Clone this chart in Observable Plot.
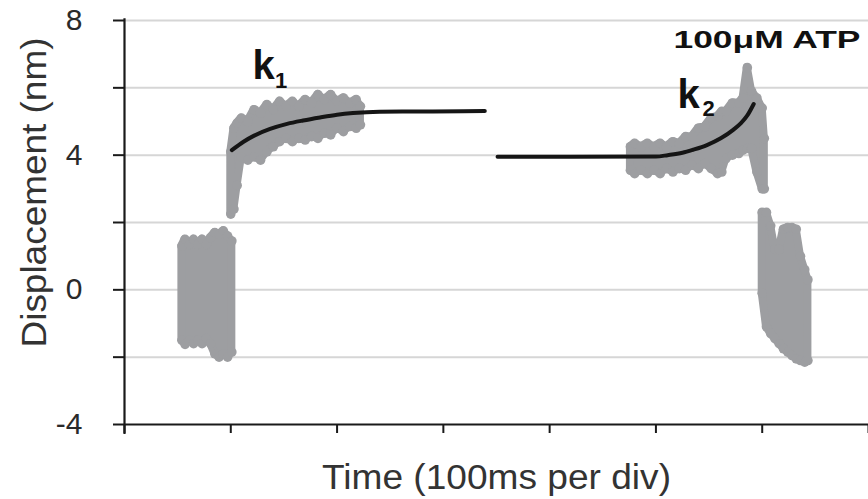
<!DOCTYPE html>
<html><head><meta charset="utf-8">
<script src="https://cdn.jsdelivr.net/npm/d3@7"></script>
<script src="https://cdn.jsdelivr.net/npm/@observablehq/plot@0.6"></script>
<style>body{margin:0;background:#fff;} #chart{width:868px;height:499px;}</style>
</head><body><div id="chart"></div>
<script>
// ---- data ----
const xTicks = [0, 100, 200, 300, 400, 500, 600, 700];        // ms, 100 ms per div
const yMinorTicks = [-4, -2, 0, 2, 4, 6, 8];
const yLabelTicks = [-4, 0, 4, 8];
const gridValues = [-2, 0, 2, 4, 6, 8];

// noisy trace shown as its spread: time (ms), lower and upper displacement (nm)
// baseline before binding
const segA_t  = [54, 57, 61, 65, 69, 73, 77, 81, 85, 89, 93, 97, 101];
const segA_lo = [-1.5, -1.62, -1.5, -1.6, -1.5, -1.6, -1.45, -1.6, -1.9, -2.0, -1.9, -2.0, -1.85];
const segA_hi = [1.3, 1.5, 1.35, 1.5, 1.35, 1.5, 1.35, 1.55, 1.7, 1.65, 1.75, 1.6, 1.45];

// bound (k1 phase)
const segB_t  = [100, 103, 106, 110, 116, 122, 128, 134, 140, 146, 152, 158, 164, 170, 176, 182, 188, 194, 200, 206, 212, 218, 222];
const segB_lo = [2.25, 2.4, 3.1, 3.95, 3.85, 3.95, 3.85, 4.1, 4.25, 4.4, 4.5, 4.4, 4.5, 4.45, 4.55, 4.5, 4.65, 4.6, 4.8, 4.7, 4.85, 4.8, 4.9];
const segB_hi = [4.1, 4.8, 4.95, 5.1, 5.0, 5.35, 5.25, 5.5, 5.35, 5.6, 5.45, 5.6, 5.45, 5.65, 5.55, 5.8, 5.65, 5.8, 5.6, 5.7, 5.55, 5.65, 5.45];

// bound (k2 phase, 100 µM ATP)
const segC_t  = [476, 480, 486, 492, 498, 504, 510, 516, 522, 528, 534, 540, 546, 552, 558, 562, 566, 572, 578, 582, 586, 590, 595, 600, 602];
const segC_lo = [3.55, 3.45, 3.55, 3.45, 3.55, 3.45, 3.6, 3.5, 3.6, 3.55, 3.7, 3.6, 3.75, 3.6, 3.45, 3.5, 3.9, 4.0, 4.05, 4.15, 4.2, 4.2, 3.5, 3.0, 3.0];
const segC_hi = [4.25, 4.35, 4.25, 4.35, 4.25, 4.35, 4.25, 4.4, 4.35, 4.55, 4.55, 4.8, 4.85, 5.1, 5.15, 5.3, 5.3, 5.55, 5.55, 5.7, 6.6, 5.9, 5.7, 5.4, 4.5];

// after release
const segD_t  = [600, 604, 608, 612, 616, 620, 624, 628, 632, 636, 640, 643];
const segD_lo = [-0.1, -1.1, -1.3, -1.45, -1.6, -1.75, -1.85, -1.95, -2.05, -2.1, -2.15, -2.1];
const segD_hi = [2.3, 2.3, 1.9, 1.2, 1.2, 1.8, 1.85, 1.85, 1.8, 1.0, 0.6, 0.3];

// exponential fits (k1, k2)
const fit1_t = [101, 112, 122, 137, 153, 168, 184, 200, 215, 240, 290, 339];
const fit1_v = [4.15, 4.4, 4.58, 4.78, 4.93, 5.03, 5.12, 5.2, 5.25, 5.29, 5.3, 5.31];
const fit2_t = [351, 420, 500, 511, 525, 535, 548, 561, 573, 580, 586, 592];
const fit2_v = [3.95, 3.95, 3.96, 4.0, 4.07, 4.16, 4.3, 4.5, 4.76, 4.95, 5.18, 5.52];

// annotations: text, time (ms), displacement at baseline (nm), font size
const annText = ["k", "1", "k", "2", "100μM ATP"];
const annT = [120.4, 141.6, 520.2, 543.7, 516.5];
const annV = [6.27, 6.0, 5.41, 5.17, 7.19];
const annSize = [40, 22, 40, 22, 24];

// ---- build tables ----
function band(ts, lo, hi, name) { return ts.map((t, i) => ({t, lo: lo[i], hi: hi[i], seg: name})); }
function pts(ts, vs, name) { return ts.map((t, i) => ({t, v: vs[i], seg: name})); }
const spread = [...band(segA_t, segA_lo, segA_hi, "A"), ...band(segB_t, segB_lo, segB_hi, "B"),
                ...band(segC_t, segC_lo, segC_hi, "C"), ...band(segD_t, segD_lo, segD_hi, "D")];
const fits = [...pts(fit1_t, fit1_v, "f1"), ...pts(fit2_t, fit2_v, "f2")];
const ann = annText.map((s, i) => ({s, t: annT[i], v: annV[i], size: annSize[i]}));

const gray = "#9d9ea1";
const font = "Liberation Sans, Arial, Helvetica, sans-serif";

const chart = Plot.plot({
  width: 868, height: 499,
  marginLeft: 124, marginRight: 0, marginTop: 20, marginBottom: 75,
  style: {fontFamily: font, background: "#fff", overflow: "visible"},
  x: {domain: [0, 700], label: null},
  y: {domain: [-4, 8], label: null},
  marks: [
    Plot.ruleY(gridValues, {stroke: "#d6d6d6", strokeWidth: 2}),
    Plot.areaY(spread, {x: "t", y1: "lo", y2: "hi", z: "seg", fill: gray, stroke: gray, strokeWidth: 8, strokeLinejoin: "round"}),
    Plot.dot(spread, {x: "t", y: "hi", r: 4.8, fill: gray}),
    Plot.dot(spread, {x: "t", y: "lo", r: 4.8, fill: gray}),
    Plot.line(fits, {x: "t", y: "v", z: "seg", stroke: "#151515", strokeWidth: 4, curve: "monotone-x"}),
    Plot.ruleX([0], {stroke: "#1a1a1a", strokeWidth: 2.2, y1: -4.3, y2: 8.05}),
    Plot.ruleY([-4], {stroke: "#1a1a1a", strokeWidth: 2.2}),
    Plot.axisY({ticks: yMinorTicks, tickSize: 11, tickFormat: () => "", label: null, stroke: "#1a1a1a", strokeWidth: 2}),
    Plot.axisY({ticks: yLabelTicks, tickSize: 0, tickPadding: 42, tickFormat: d => String(d), label: null, fontSize: 30, fill: "#2a2a2a"}),
    Plot.axisX({ticks: xTicks, tickSize: 9, tickFormat: () => "", label: null, stroke: "#1a1a1a", strokeWidth: 2}),
    Plot.text(["Displacement (nm)"], {frameAnchor: "left", textAnchor: "middle", lineAnchor: "middle", rotate: -90, dx: -90, dy: -30, fontSize: 35, fill: "#333"}),
    Plot.text(["Time (100ms per div)"], {frameAnchor: "bottom", textAnchor: "middle", lineAnchor: "bottom", dy: 64, fontSize: 35, fill: "#333"}),
    Plot.text(ann, {x: "t", y: "v", text: "s", fontSize: d => d.size, fontWeight: "bold", textAnchor: "start", lineAnchor: "bottom", fill: "#111"})
  ]
});
document.getElementById("chart").appendChild(chart);
const fit = {"100μM ATP": 187, "Time (100ms per div)": 349, "Displacement (nm)": 310};
d3.select(chart).selectAll("text").each(function() {
  const L = fit[this.textContent];
  if (L) d3.select(this).attr("textLength", L).attr("lengthAdjust", "spacingAndGlyphs");
});
</script></body></html>
